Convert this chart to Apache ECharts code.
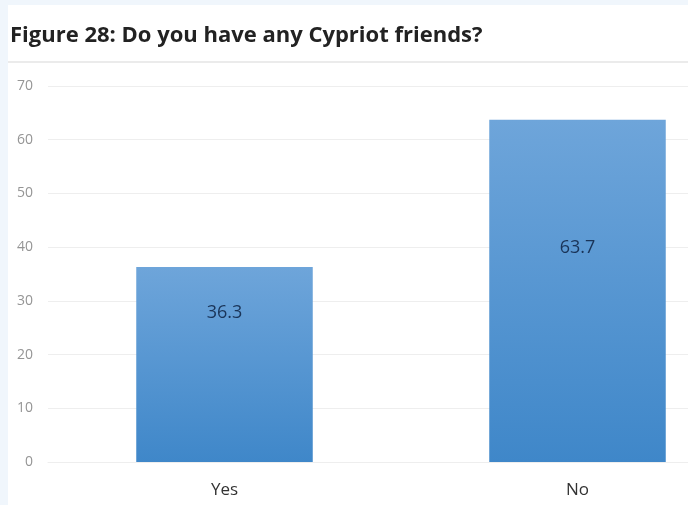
<!DOCTYPE html>
<html><head><meta charset="utf-8">
<script src="https://cdn.jsdelivr.net/npm/echarts@6/dist/echarts.min.js"></script>
<style>html,body{margin:0;padding:0;background:#f0f6fc;overflow:hidden}#c{width:754px;height:505px}</style>
</head><body><div id="c"></div>
<script>
const categories = ['Yes', 'No'];
const values = [36.3, 63.7];
const yTicks = [0, 10, 20, 30, 40, 50, 60, 70];

const labelPos = [['50%', '23.5%'], ['50%', '37.5%']];
const chart = echarts.init(document.getElementById('c'));
chart.setOption({
  backgroundColor: '#f0f6fc',
  animation: false,
  graphic: [
    { type: 'rect', left: 8, top: 5, shape: { width: 760, height: 500 }, style: { fill: '#ffffff' }, z: -10 },
    { type: 'rect', left: 8, top: 61, shape: { width: 760, height: 2 }, style: { fill: '#ebebeb' }, z: -9 }
  ],
  title: {
    text: 'Figure 28: Do you have any Cypriot friends?',
    left: 5, top: 20,
    textStyle: { fontFamily: 'Open Sans', fontWeight: 'bold', fontSize: 22, color: '#222' }
  },
  grid: { left: 48, right: 0, top: 86, bottom: 43, containLabel: false },
  xAxis: {
    type: 'category', data: categories,
    axisLine: { show: true, lineStyle: { color: '#eeeeee' } },
    axisTick: { show: false },
    axisLabel: { fontFamily: 'Open Sans', fontSize: 17, color: '#333', margin: 20 }
  },
  yAxis: {
    type: 'value', min: yTicks[0], max: yTicks[yTicks.length - 1], interval: 10,
    axisLine: { show: false }, axisTick: { show: false },
    axisLabel: { fontFamily: 'Open Sans', fontSize: 14, color: '#959595', margin: 15 },
    splitLine: { lineStyle: { color: '#eeeeee' } }
  },
  series: [{
    type: 'bar', barWidth: '50%',
    data: values.map((v, i) => ({ value: v, label: { position: labelPos[i] } })),
    itemStyle: {
      color: new echarts.graphic.LinearGradient(0, 0, 0, 1, [
        { offset: 0, color: '#6ea5da' },
        { offset: 1, color: '#3f87c9' }
      ])
    },
    label: {
      show: true, fontFamily: 'Open Sans', fontSize: 18, color: '#1a3458',
      align: 'center', verticalAlign: 'middle',
      formatter: p => p.value.toFixed(1)
    }
  }]
});
</script></body></html>
